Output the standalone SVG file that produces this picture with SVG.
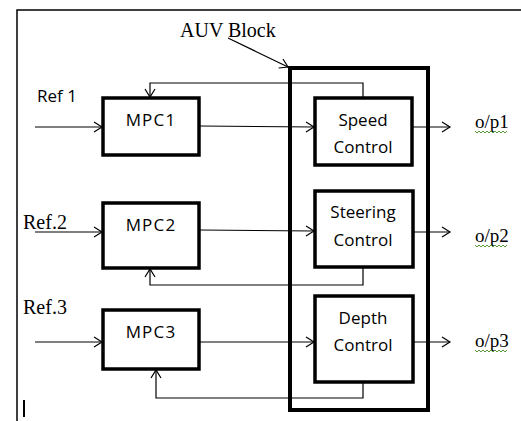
<svg xmlns="http://www.w3.org/2000/svg" width="521" height="421" viewBox="0 0 521 421">
<style>
.box{fill:#fff;stroke:#000;stroke-width:3.5}
.big{fill:none;stroke:#000;stroke-width:4}
.c{fill:none;stroke:#000;stroke-width:1.2}
.s{font-family:"Open Sans","Liberation Sans",sans-serif;font-size:17px;fill:#000}
.r{font-family:"Liberation Serif",serif;font-size:20px;fill:#000}
.u{font-family:"Liberation Serif",serif;font-size:19px;fill:#000}
.sq{fill:none;stroke:#5a9a3a;stroke-width:1}
</style>
<defs>
<marker id="a" markerUnits="userSpaceOnUse" markerWidth="12" markerHeight="12" refX="10" refY="6" orient="auto">
<path d="M2,1 L10,6 L2,11" fill="none" stroke="#000" stroke-width="1.2"/>
</marker>
</defs>
<rect width="521" height="421" fill="#fff"/>
<path d="M17,421 V10 H521" fill="none" stroke="#000" stroke-width="1.5"/>
<g id="auv-block">
<rect class="big" x="290" y="68" width="138" height="342"/>
<text class="r" x="180" y="37">AUV Block</text>
</g>
<g id="mpc1"><rect class="box" x="103" y="98" width="96" height="57"/><text class="s" x="151" y="126" text-anchor="middle" letter-spacing="1.2">MPC1</text></g>
<g id="mpc2"><rect class="box" x="103" y="203" width="96" height="65"/><text class="s" x="151" y="231" text-anchor="middle" letter-spacing="1.2">MPC2</text></g>
<g id="mpc3"><rect class="box" x="103" y="310" width="96" height="59"/><text class="s" x="151" y="338" text-anchor="middle" letter-spacing="1.2">MPC3</text></g>
<g id="speed"><rect class="box" x="315" y="98" width="97" height="67"/><text class="s" x="363" y="126" text-anchor="middle">Speed</text><text class="s" x="363" y="153" text-anchor="middle">Control</text></g>
<g id="steering"><rect class="box" x="315" y="191" width="98" height="76"/><text class="s" x="363" y="218" text-anchor="middle">Steering</text><text class="s" x="363" y="246" text-anchor="middle">Control</text></g>
<g id="depth"><rect class="box" x="315" y="296" width="98" height="86"/><text class="s" x="363" y="324" text-anchor="middle">Depth</text><text class="s" x="363" y="351" text-anchor="middle">Control</text></g>
<g id="labels">
<text class="s" x="37" y="102">Ref 1</text>
<text class="r" x="23" y="229">Ref.2</text>
<text class="r" x="23" y="314">Ref.3</text>
<text class="u" x="475" y="128">o/p1</text>
<text class="u" x="475" y="242">o/p2</text>
<text class="u" x="475" y="347">o/p3</text>
<path class="sq" d="M475,131 l2,2 l2,-2 l2,2 l2,-2 l2,2 l2,-2 l2,2 l2,-2 l2,2 l2,-2 l2,2 l2,-2 l2,2 l2,-2 l2,2 l2,-2"/>
<path class="sq" d="M475,245 l2,2 l2,-2 l2,2 l2,-2 l2,2 l2,-2 l2,2 l2,-2 l2,2 l2,-2 l2,2 l2,-2 l2,2 l2,-2 l2,2 l2,-2"/>
<path class="sq" d="M475,350 l2,2 l2,-2 l2,2 l2,-2 l2,2 l2,-2 l2,2 l2,-2 l2,2 l2,-2 l2,2 l2,-2 l2,2 l2,-2 l2,2 l2,-2"/>
<line x1="24" y1="400" x2="24" y2="417" stroke="#000" stroke-width="2"/>
</g>
<g id="connectors">
<line class="c" x1="228" y1="38" x2="288" y2="67" marker-end="url(#a)"/>
<line class="c" x1="35" y1="127" x2="102" y2="127" marker-end="url(#a)"/>
<line class="c" x1="199" y1="126" x2="314" y2="127" marker-end="url(#a)"/>
<line class="c" x1="412" y1="127" x2="450" y2="127" marker-end="url(#a)"/>
<path class="c" d="M363,98 V83 H150 V97" marker-end="url(#a)"/>
<line class="c" x1="35" y1="232" x2="102" y2="232" marker-end="url(#a)"/>
<line class="c" x1="199" y1="230" x2="314" y2="231" marker-end="url(#a)"/>
<line class="c" x1="413" y1="232" x2="450" y2="232" marker-end="url(#a)"/>
<path class="c" d="M363,267 V285 H150 V269" marker-end="url(#a)"/>
<line class="c" x1="35" y1="342" x2="102" y2="342" marker-end="url(#a)"/>
<line class="c" x1="199" y1="342" x2="314" y2="342" marker-end="url(#a)"/>
<line class="c" x1="413" y1="342" x2="450" y2="342" marker-end="url(#a)"/>
<path class="c" d="M363,382 V398 H156 V370" marker-end="url(#a)"/>
</g>
</svg>
